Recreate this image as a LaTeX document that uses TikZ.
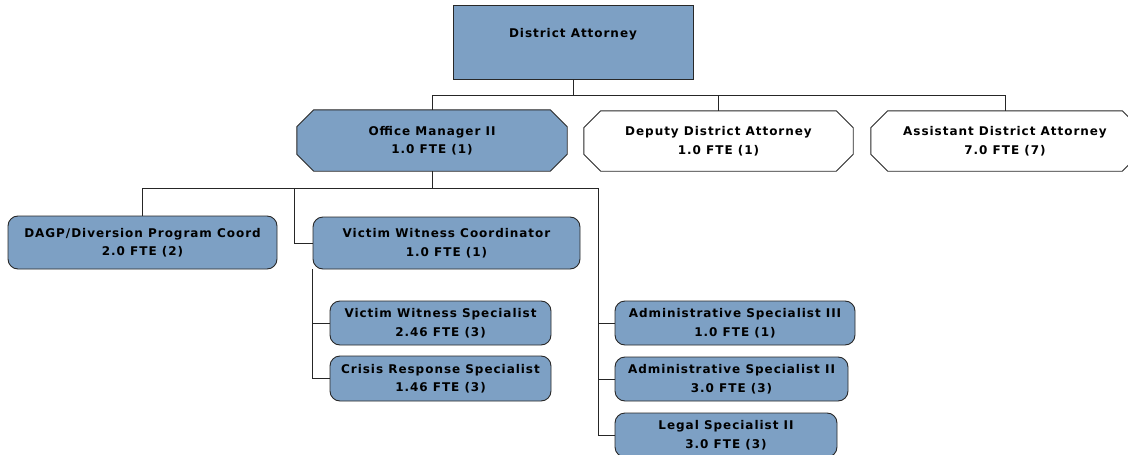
\documentclass[tikz,border=0pt]{standalone}
\usepackage{fontspec}
\newfontfamily\orgfont{DejaVu Sans}[LetterSpace=8]
\usetikzlibrary{backgrounds}
\definecolor{boxblue}{RGB}{125,160,196}
\definecolor{edge}{RGB}{40,40,40}
\tikzset{
  lbl/.style={font=\orgfont\bfseries\fontsize{12}{18.5}\selectfont, align=center, inner sep=0pt, text=black},
  sqbox/.style={lbl, draw=edge, line width=0.9pt, fill=boxblue},
  rbox/.style={lbl, draw=edge, line width=0.9pt, fill=boxblue, rounded corners=10pt},
  obox/.style={lbl},
  octfill/.style={draw=edge, line width=0.9pt, fill=boxblue},
  octwhite/.style={draw=edge, line width=0.9pt, fill=white},
  conn/.style={draw=black!85, line width=0.8pt}
}
\newcommand\octoline[2]{%
  \path[#2] ([xshift=17pt]#1.north west) -- ([xshift=-17pt]#1.north east)
    -- ([yshift=-17pt]#1.north east) -- ([yshift=17pt]#1.south east)
    -- ([xshift=-17pt]#1.south east) -- ([xshift=17pt]#1.south west)
    -- ([yshift=17pt]#1.south west) -- ([yshift=-17pt]#1.north west) -- cycle;}
\begin{document}
\begin{tikzpicture}[x=1pt,y=-1pt]
\useasboundingbox (0,0) rectangle (1128,455);
\clip (0,0) rectangle (1128,455);
% level 1
\node[sqbox, minimum width=240pt, minimum height=74pt] (da) at (573,42) {District Attorney\\ \mbox{}};
% level 2
\node[obox, minimum width=270pt, minimum height=61pt] (om) at (432,140.5) {Office Manager II\\1.0 FTE (1)};
\node[obox, minimum width=269pt, minimum height=60pt] (dep) at (718.5,141) {Deputy District Attorney\\1.0 FTE (1)};
\node[obox, minimum width=268pt, minimum height=60pt] (ada) at (1005,141) {Assistant District Attorney\\7.0 FTE (7)};
\begin{pgfonlayer}{background}
\fill[white] (0,0) rectangle (1128,455);
\octoline{om}{octfill}
\octoline{dep}{octwhite}
\octoline{ada}{octwhite}
\end{pgfonlayer}
% level 3
\node[rbox, minimum width=269pt, minimum height=53pt] (dagp) at (142.5,242.5) {DAGP/Diversion Program Coord\\2.0 FTE (2)};
\node[rbox, minimum width=267pt, minimum height=52pt] (vwc) at (446.5,243) {Victim Witness Coordinator\\1.0 FTE (1)};
\node[rbox, minimum width=221pt, minimum height=44pt] (vws) at (440.5,323) {Victim Witness Specialist\\2.46 FTE (3)};
\node[rbox, minimum width=221pt, minimum height=45pt] (crs) at (440.5,378.5) {Crisis Response Specialist\\1.46 FTE (3)};
\node[rbox, minimum width=240pt, minimum height=44pt] (as3) at (735,323) {Administrative Specialist III\\1.0 FTE (1)};
\node[rbox, minimum width=233pt, minimum height=44pt] (as2) at (731.5,379) {Administrative Specialist II\\3.0 FTE (3)};
\node[rbox, minimum width=222pt, minimum height=44pt] (lsp) at (726,435) {Legal Specialist II\\3.0 FTE (3)};
% bus coordinates
\coordinate (bus1) at (0,95);
\coordinate (bus2) at (0,188);
\coordinate (admx) at (598,0);
\coordinate (vwcx) at (294,0);
% connectors
\draw[conn] (da.south) -- (da.south |- bus1);
\draw[conn] (om.north) -- (om.north |- bus1) -- (ada.north |- bus1) -- (ada.north);
\draw[conn] (dep.north) -- (dep.north |- bus1);
\draw[conn] (om.south) -- (om.south |- bus2);
\draw[conn] (dagp.north) |- (admx |- bus2) -- (admx |- lsp.west) -- (lsp.west);
\draw[conn] (as3.west) -- (as3.west -| admx);
\draw[conn] (as2.west) -- (as2.west -| admx);
\draw[conn] (vwcx |- bus2) |- (vwc.west);
\draw[conn] (vwc.south west) |- (crs.west);
\draw[conn] (vws.west) -- (vws.west -| vwc.west);
\end{tikzpicture}
\end{document}
